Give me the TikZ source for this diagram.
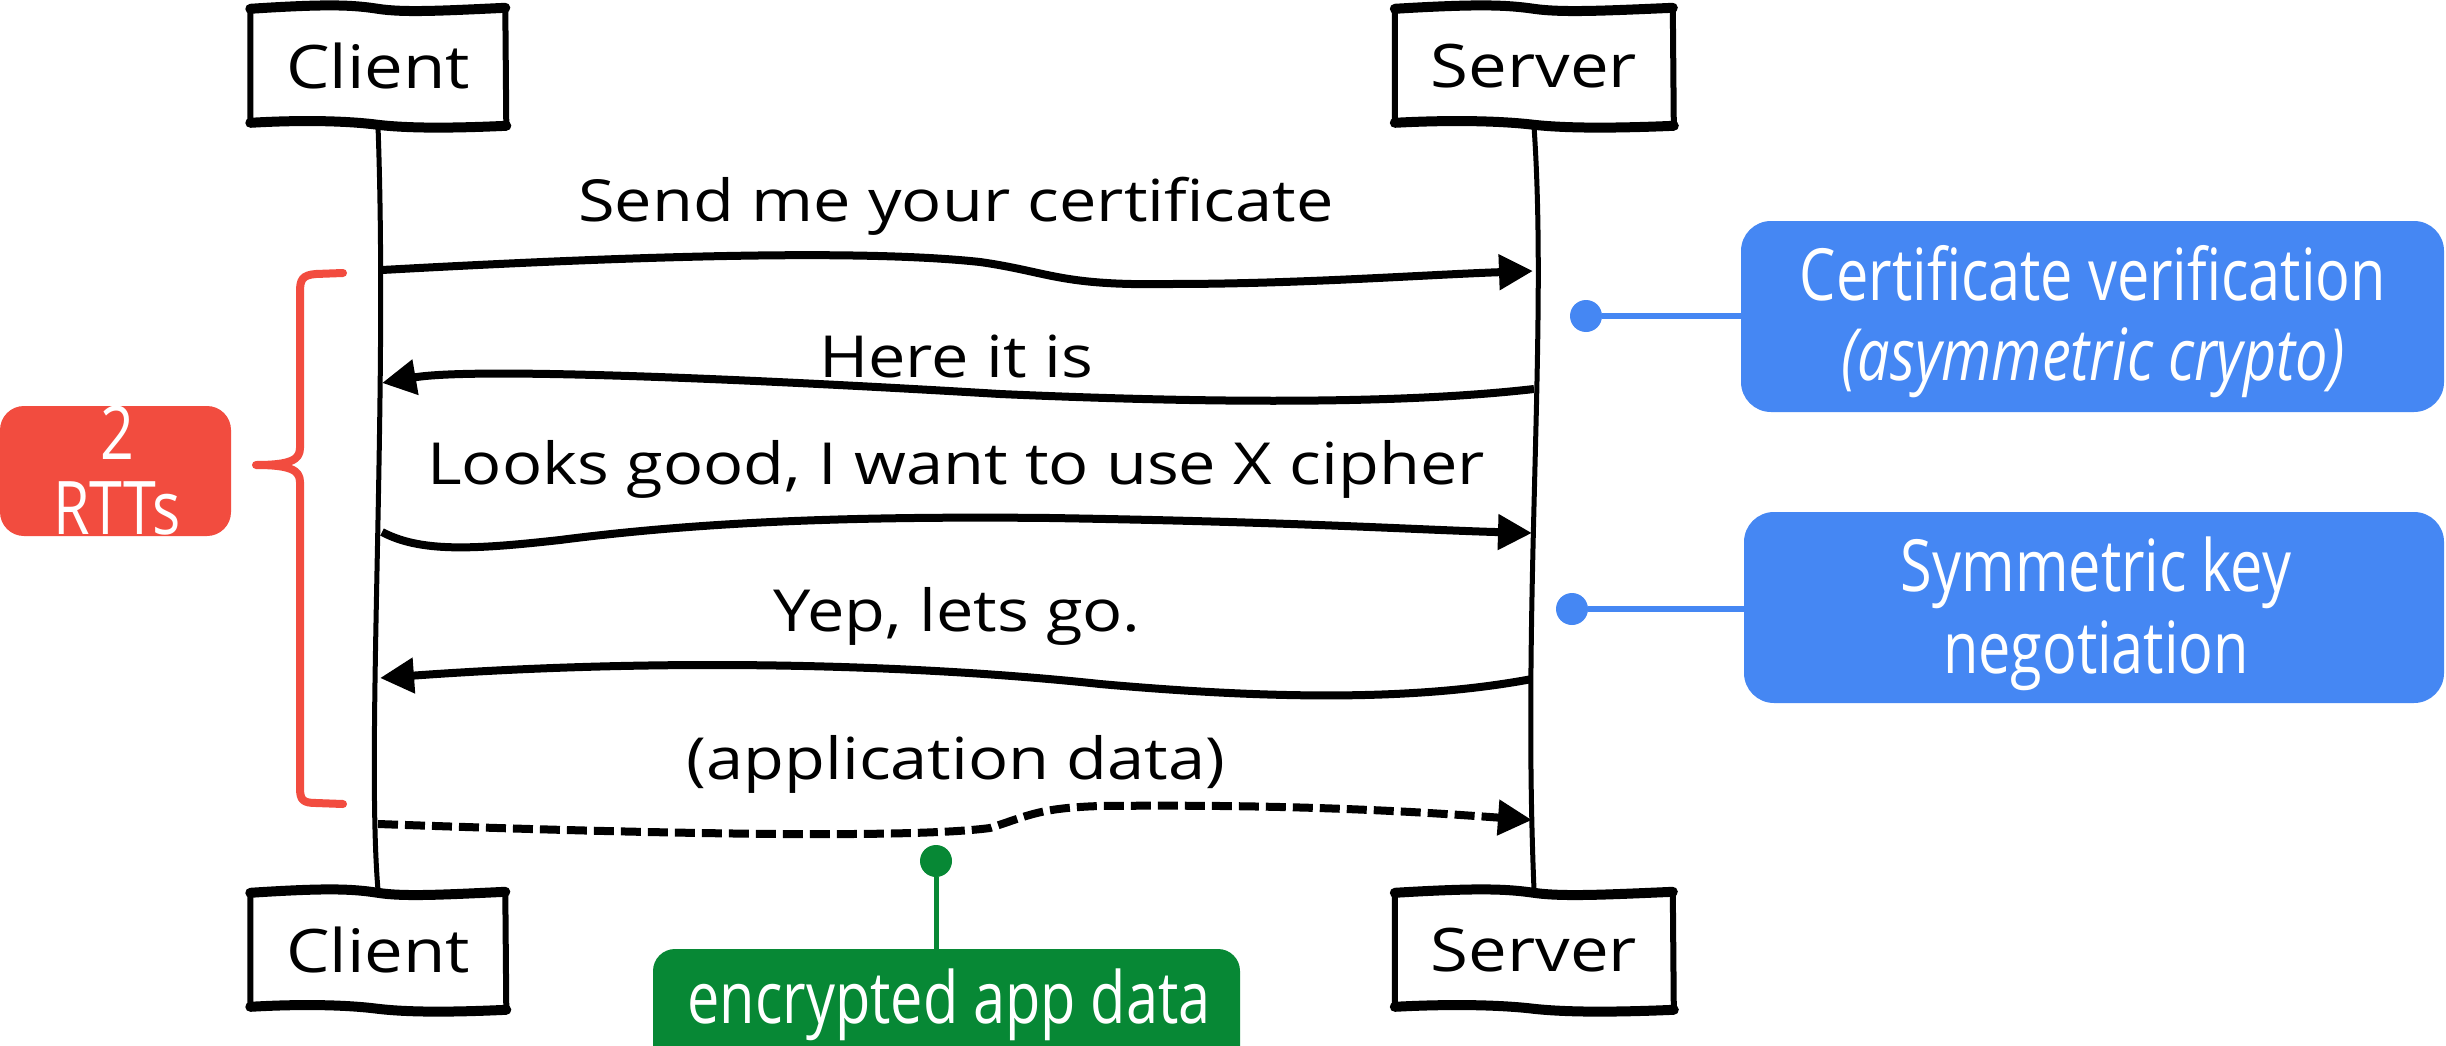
\documentclass[tikz,border=0pt]{standalone}
\usepackage{fontspec}
\usetikzlibrary{arrows.meta}
\newfontfamily\handfont[FakeStretch=1.15]{Open Sans}
\newfontfamily\labfont[FakeStretch=0.8]{Open Sans}
\definecolor{myred}{HTML}{F24C3F}
\definecolor{myblue}{HTML}{4587F3}
\definecolor{mygreen}{HTML}{078835}
\newcommand\wavyframe[3]{%
 \begin{scope}[shift={(#1.north west)}]
  \draw[line width=6pt,line join=round] (0,3) -- (0,#3-3) (#2,2) -- (#2+1,#3);
  \draw[line width=10pt,line cap=round] (0,3) .. controls (0.3*#2,-2) and (0.4*#2,-1) .. (0.5*#2,3) .. controls (0.6*#2,7) and (0.75*#2,5) .. (#2,2);
  \draw[line width=10pt,line cap=round] (#2+1,#3) .. controls (0.75*#2,#3+3) and (0.6*#2,#3+2) .. (0.5*#2,#3-1) .. controls (0.38*#2,#3-5) and (0.2*#2,#3-6) .. (0,#3-3);
 \end{scope}}
\begin{document}
\begin{tikzpicture}[x=1pt,y=-1pt,
  actor/.style={minimum width=#1pt, minimum height=120pt, inner sep=0pt, font=\handfont\fontsize{60}{66}\selectfont},
  msg/.style={anchor=base, inner sep=0pt, font=\handfont\fontsize{58}{66}\selectfont},
  lab/.style={anchor=base, inner sep=0pt, text=white, font=\labfont\fontsize{72}{80}\selectfont},
  lifeline/.style={line width=5pt, line cap=round},
  msgarrow/.style={line width=8pt, -{Triangle[length=34pt,width=34pt]}},
  dashedarrow/.style={msgarrow, dash pattern=on 20pt off 7pt},
  callout/.style={inner sep=0pt, rounded corners=30pt},
  dot/.style={circle, inner sep=0pt, minimum size=32pt},
]
\useasboundingbox (0,0) rectangle (2446,1046);
\fill[white] (0,0) rectangle (2446,1046);
\clip (0,0) rectangle (2446,1046);

% actors
\node[actor=255] (ct) at (378,66) {Client};
\node[actor=278] (st) at (1534,66) {Server};
\node[actor=255] (cb) at (378,950) {Client};
\node[actor=278] (sb) at (1534,950) {Server};
\wavyframe{ct}{255}{120}
\wavyframe{st}{278}{120}
\wavyframe{cb}{255}{120}
\wavyframe{sb}{278}{120}

% lifelines
\draw[lifeline] (ct.south) .. controls (388,400) and (366,750) .. (cb.north);
\draw[lifeline] (st.south) .. controls (1548,330) and (1522,600) .. (sb.north);

% message end points
\coordinate (a1s) at (382,270);  \coordinate (a1e) at (1533,271);
\coordinate (a2s) at (1534,389); \coordinate (a2e) at (382,383);
\coordinate (a3s) at (382,532);  \coordinate (a3e) at (1532,533);
\coordinate (a4s) at (1532,679); \coordinate (a4e) at (380,678);
\coordinate (a5s) at (378,824);  \coordinate (a5e) at (1532,820);

% messages
\node[msg] (m1) at (956,221) {Send me your certificate};
\draw[msgarrow] (a1s) .. controls (600,258) and (850,248) .. (980,262) .. controls (1050,272) and (1060,286) .. (1170,284) .. controls (1300,284) and (1420,275) .. (a1e);
\node[msg] (m2) at (956,377) {Here it is};
\draw[msgarrow] (a2s) .. controls (1420,402) and (1250,405) .. (1000,394) .. controls (800,382) and (480,366) .. (a2e);
\node[msg] (m3) at (956,484) {Looks good, I want to use X cipher};
\draw[msgarrow] (a3s) .. controls (420,552) and (470,550) .. (560,540) .. controls (700,522) and (850,516) .. (1050,518) .. controls (1300,522) and (1420,530) .. (a3e);
\node[msg] (m4) at (957,631) {Yep, lets go.};
\draw[msgarrow] (a4s) .. controls (1420,700) and (1280,700) .. (1100,684) .. controls (950,668) and (700,655) .. (a4e);
\node[msg] (m5) at (956,779) {(application data)};
\draw[dashedarrow] (a5s) .. controls (600,832) and (900,840) .. (990,828) .. controls (1030,815) and (1040,808) .. (1100,806) .. controls (1300,804) and (1420,812) .. (a5e);

% red brace and box
\draw[myred, line width=8pt, line cap=round, line join=round]
  (343,273) -- (316,274) .. controls (302,275) and (300,280) .. (300,292) -- (300,448)
  .. controls (300,460) and (290,465) .. (256,465) .. controls (290,465) and (300,470) .. (300,482)
  -- (300,788) .. controls (300,800) and (303,803) .. (316,803) -- (343,804);
\node[callout, fill=myred, rounded corners=24pt, minimum width=231pt, minimum height=130pt] (rb) at (115.5,471) {};
\node[lab, font=\labfont\fontsize{74}{80}\selectfont] (rt1) at (117,459) {2};
\node[lab, font=\labfont\fontsize{74}{80}\selectfont] (rt2) at (117,534) {RTTs};

% blue callouts
\node[callout, fill=myblue, minimum width=703pt, minimum height=191pt] (bb1) at (2092.5,316.5) {};
\node[lab] (bt1) at (2093,300) {Certificate verification};
\node[lab] (bt2) at (2093,380) {\itshape (asymmetric crypto)};
\node[dot, fill=myblue] (d1) at (1586,316) {};
\draw[myblue, line width=6pt] (d1) -- (d1 -| bb1.west);

\node[callout, fill=myblue, minimum width=700pt, minimum height=191pt] (bb2) at (2094,607.5) {};
\node[lab] (bt3) at (2096,591) {Symmetric key};
\node[lab] (bt4) at (2096,673) {negotiation};
\node[dot, fill=myblue] (d2) at (1572,609) {};
\draw[myblue, line width=6pt] (d2) -- (d2 -| bb2.west);

% green callout
\node[callout, fill=mygreen, rounded corners=22pt, minimum width=587pt, minimum height=121pt] (gb) at (946.5,1009.5) {};
\node[lab] (gt) at (949,1023) {encrypted app data};
\node[dot, fill=mygreen] (gd) at (936,861) {};
\draw[mygreen, line width=5pt] (gd) -- (gd |- gb.north);
\end{tikzpicture}
\end{document}
